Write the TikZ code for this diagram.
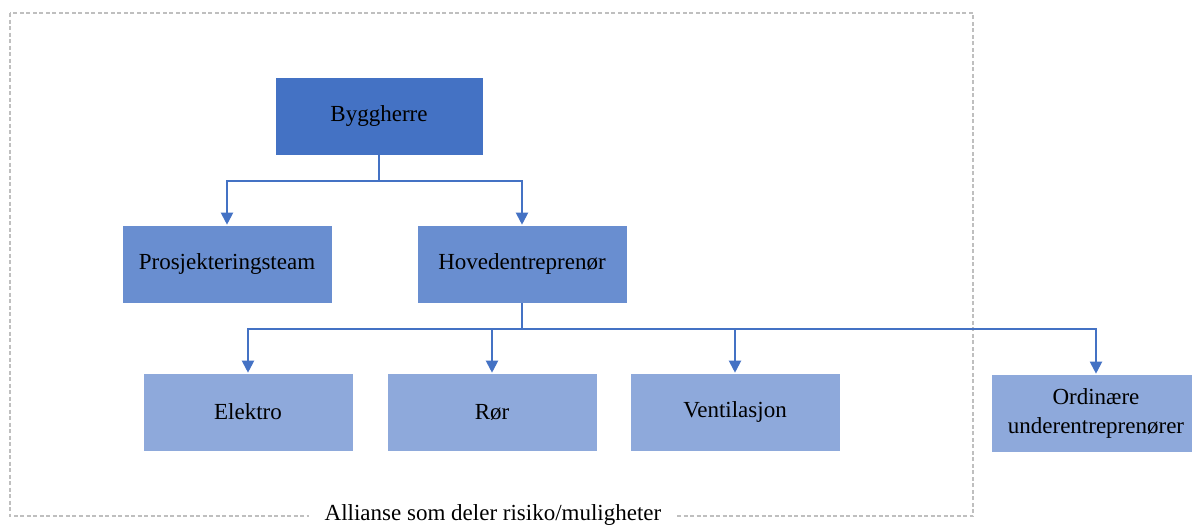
\documentclass[tikz,border=0pt]{standalone}
\usepackage{fontspec}
\setmainfont{Liberation Serif}
\usetikzlibrary{arrows.meta}
\definecolor{dark}{HTML}{4472C4}
\definecolor{mid}{HTML}{698ED0}
\definecolor{light}{HTML}{8EA9DB}
\definecolor{framec}{HTML}{BFBFBF}
\begin{document}
\begin{tikzpicture}[x=1pt,y=-1pt,
  box/.style={draw=white,line width=0.6pt,minimum width=210pt,minimum height=78pt,inner sep=2pt,align=center,font=\fontsize{23}{27}\selectfont,text=black},
  arr/.style={draw=dark,line width=2pt,-{Triangle[width=12pt,length=12pt]}},
  frame/.style={draw=framec,line width=1.2pt,dash pattern=on 4pt off 2.5pt}]
\useasboundingbox (0,0) rectangle (1192,525);
\begin{scope}
\clip (0,0) rectangle (1192,525);
\draw[frame] (10,13) rectangle (973,516);
\node[fill=white,inner xsep=16pt,inner ysep=3pt,font=\fontsize{23}{27}\selectfont] (lab) at (493,515) {Allianse som deler risiko/muligheter};
\node[box,fill=dark,minimum width=208pt] (byg) at (379,116) {Byggherre};
\node[box,fill=mid] (pro) at (227,264) {Prosjekteringsteam};
\node[box,fill=mid] (hov) at (522,264) {Hovedentreprenør};
\node[box,fill=light] (ele) at (248,412) {Elektro};
\node[box,fill=light] (ror) at (492,412) {Rør};
\node[box,fill=light] (ven) at (735,412) {Ventilasjon};
\node[box,fill=light,align=center] (ord) at (1096,413) {Ordinære\\[2pt]underentreprenører};
\coordinate (j1) at (379,181);
\coordinate (j2) at (522,329);
\draw[draw=dark,line width=2pt] (byg.south) -- (j1);
\draw[arr] (j1) -| (pro.north);
\draw[arr] (j1) -| (hov.north);
\draw[draw=dark,line width=2pt] (hov.south) -- (j2);
\draw[arr] (j2) -| (ele.north);
\draw[arr] (j2) -| (ror.north);
\draw[arr] (j2) -| (ven.north);
\draw[arr] (j2) -| (ord.north);
\end{scope}
\end{tikzpicture}
\end{document}
